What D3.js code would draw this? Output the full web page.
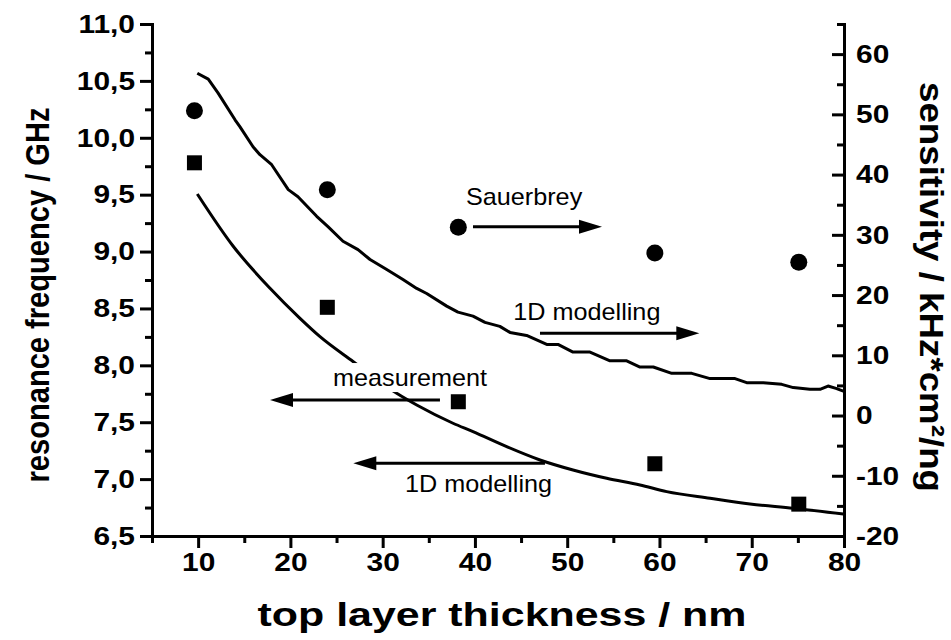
<!DOCTYPE html>
<html>
<head>
<meta charset="utf-8">
<script src="https://cdn.jsdelivr.net/npm/d3@7"></script>
<style>
  body { margin: 0; background: #fff; }
  svg { display: block; }
  text { font-family: Arial, "Liberation Sans", Helvetica, sans-serif; fill: #000; }
</style>
</head>
<body>
<svg id="chart" width="951" height="640"></svg>
<script>
// ---- data ----
var thickness     = [9.6, 24.0, 38.2, 59.5, 75.1];       // nm
var measuredFreq  = [9.78, 8.51, 7.68, 7.135, 6.78];     // GHz (left axis)
var sauerbreySens = [50.6, 37.5, 31.25, 27.0, 25.45];    // kHz*cm2/ng (right axis)

// 1D model, frequency (left axis)
var modelFreqX = [9.91, 13.78, 17.79, 21.04, 23.21, 26.82, 31.52, 33.69, 37.62, 39.79,
                  43.44, 47.05, 50.63, 54.28, 57.89, 60.78, 65.48, 69.81, 74.51, 79.93];
var modelFreqY = [9.506, 9.049, 8.677, 8.413, 8.252, 8.032, 7.754, 7.651, 7.491, 7.417,
                  7.285, 7.168, 7.08, 7.007, 6.948, 6.89, 6.831, 6.781, 6.744, 6.693];

// 1D model, sensitivity (right axis)
var modelSensX = [9.91, 11.10, 12.15, 14.0, 14.54, 15.95, 16.7, 17.97, 19.77, 20.82, 22.85, 24.07,
                  25.7, 27.33, 28.63, 30.44, 32.2, 33.69, 34.77, 36.94, 38.16, 39.79, 41.09, 42.7,
                  43.8, 45.6, 47.78, 49.0, 50.63, 52.47, 54.64, 56.45, 57.89, 59.33, 61.33, 63.5,
                  65.48, 68.19, 69.45, 71.25, 73.25, 74.5, 76.3, 77.4, 78.27, 79.13, 80.0];
var modelSensY = [56.83, 55.84, 53.57, 49.1, 47.93, 44.62, 43.3, 41.64, 37.5, 36.33, 33.07, 31.36,
                  28.93, 27.55, 25.9, 24.24, 22.58, 21.1, 20.26, 18.16, 17.16, 16.5, 15.46, 14.8,
                  13.8, 13.3, 11.81, 11.81, 10.54, 10.54, 9.08, 9.08, 8.05, 8.05, 7.0, 7.0,
                  6.13, 6.13, 5.46, 5.46, 5.18, 4.64, 4.35, 4.35, 4.9, 4.5, 4.0];

// ticks
var xMajor = [10, 20, 30, 40, 50, 60, 70, 80];
var xMinor = [5, 15, 25, 35, 45, 55, 65, 75];
var leftMajor = [6.5, 7.0, 7.5, 8.0, 8.5, 9.0, 9.5, 10.0, 10.5, 11.0];
var leftMinor = [6.75, 7.25, 7.75, 8.25, 8.75, 9.25, 9.75, 10.25, 10.75];
var rightMajor = [-20, -10, 0, 10, 20, 30, 40, 50, 60];
var rightMinor = [-15, -5, 5, 15, 25, 35, 45, 55, 65];

// annotations: text position + arrow, in data units of their own axis
var annLabels = ["Sauerbrey", "1D modelling", "measurement", "1D modelling"];
var annAxis   = ["R", "R", "L", "L"];
var annTextX  = [39.03, 44.16, 24.62, 32.42];
var annTextY  = [34.95, 15.86, 7.818, 6.89];
var annFromX  = [39.79, 47.05, 36.21, 47.59];
var annToX    = [53.77, 64.32, 17.79, 26.82];
var annArrowY = [31.35, 13.65, 7.695, 7.139];

// ---- layout ----
var svg = d3.select("#chart");
var m = { left: 152, right: 844, top: 24, bottom: 536 };

var x = d3.scaleLinear().domain([5, 80]).range([m.left, m.right]);
var yL = d3.scaleLinear().domain([6.5, 11]).range([m.bottom, m.top]);
var yR = d3.scaleLinear().domain([-20, 65]).range([m.bottom, m.top]);

var comma = d3.formatLocale({decimal: ",", thousands: ".", grouping: [3], currency: ["", ""], minus: "-"});
var intFmt = comma.format("d");

function widen(sel, k) {
  sel.each(function () {
    var n = this.getComputedTextLength();
    d3.select(this).attr("textLength", n * k).attr("lengthAdjust", "spacingAndGlyphs");
  });
}

function styleAxis(g) {
  g.select(".domain").attr("stroke-width", 3).attr("stroke-linecap", "square");
  g.selectAll(".tick line").attr("stroke-width", 3);
  g.selectAll(".tick text").attr("font-size", 26).attr("font-weight", "bold")
    .attr("font-family", "Arial, 'Liberation Sans', sans-serif");
}

function minorStyle(g) {
  g.select(".domain").remove();
  g.selectAll("line").attr("stroke-width", 3);
}

// minor ticks
svg.append("g").attr("transform", "translate(0," + m.bottom + ")")
  .call(d3.axisBottom(x).tickValues(xMinor).tickSize(7).tickFormat(""))
  .call(minorStyle);
svg.append("g").attr("transform", "translate(" + m.left + ",0)")
  .call(d3.axisLeft(yL).tickValues(leftMinor).tickSize(7).tickFormat(""))
  .call(minorStyle);
svg.append("g").attr("transform", "translate(" + m.right + ",0)")
  .call(d3.axisRight(yR).tickValues(rightMinor).tickSize(-7).tickFormat(""))
  .call(minorStyle);

// major axes
svg.append("g").attr("class", "major").attr("transform", "translate(0," + m.bottom + ")")
  .call(d3.axisBottom(x).tickValues(xMajor).tickSizeInner(12).tickSizeOuter(0).tickPadding(5)
    .tickFormat(intFmt))
  .call(styleAxis);
svg.append("g").attr("class", "major").attr("transform", "translate(" + m.left + ",0)")
  .call(d3.axisLeft(yL).tickValues(leftMajor).tickSizeInner(12).tickSizeOuter(0).tickPadding(5)
    .tickFormat(comma.format(".1f")))
  .call(styleAxis);
svg.append("g").attr("class", "major").attr("transform", "translate(" + m.right + ",0)")
  .call(d3.axisRight(yR).tickValues(rightMajor).tickSizeInner(-12).tickSizeOuter(0).tickPadding(12)
    .tickFormat(intFmt))
  .call(styleAxis);
widen(svg.selectAll(".major .tick text"), 1.15);

// ---- curves ----
var freqLine = d3.line().x(function (d) { return x(d[0]); }).y(function (d) { return yL(d[1]); })
  .curve(d3.curveMonotoneX);
var sensLine = d3.line().x(function (d) { return x(d[0]); }).y(function (d) { return yR(d[1]); });

svg.append("path")
  .datum(d3.zip(modelSensX, modelSensY))
  .attr("d", sensLine)
  .attr("fill", "none").attr("stroke", "#000").attr("stroke-width", 3).attr("stroke-linejoin", "round");
svg.append("path")
  .datum(d3.zip(modelFreqX, modelFreqY))
  .attr("d", freqLine)
  .attr("fill", "none").attr("stroke", "#000").attr("stroke-width", 3);

// ---- markers ----
svg.selectAll(".sq").data(d3.zip(thickness, measuredFreq)).enter().append("rect")
  .attr("class", "sq")
  .attr("x", function (d) { return x(d[0]) - 7.5; })
  .attr("y", function (d) { return yL(d[1]) - 7.5; })
  .attr("width", 15).attr("height", 15).attr("fill", "#000");
svg.selectAll(".dot").data(d3.zip(thickness, sauerbreySens)).enter().append("circle")
  .attr("class", "dot")
  .attr("cx", function (d) { return x(d[0]); })
  .attr("cy", function (d) { return yR(d[1]); })
  .attr("r", 8.5).attr("fill", "#000");

// ---- annotations ----
var ann = annLabels.map(function (t, i) {
  var ys = annAxis[i] === "L" ? yL : yR;
  return { text: t, tx: x(annTextX[i]), ty: ys(annTextY[i]),
           x1: x(annFromX[i]), x2: x(annToX[i]), ay: ys(annArrowY[i]) };
});

var ag = svg.selectAll(".ann").data(ann).enter().append("g").attr("class", "ann");
var bg = ag.append("rect").attr("fill", "#fff");
var at = ag.append("text")
  .attr("x", function (d) { return d.tx; })
  .attr("y", function (d) { return d.ty; })
  .attr("font-size", 24)
  .text(function (d) { return d.text; });
widen(at, 1.05);
// white box behind the labels (hides the curve under "measurement")
bg.each(function (d, i) {
  var b = at.nodes()[i].getBBox();
  d3.select(this).attr("x", b.x - 1).attr("y", b.y - 1).attr("width", b.width + 2).attr("height", b.height + 2);
});

ag.append("line")
  .attr("x1", function (d) { return d.x1; })
  .attr("x2", function (d) { return d.x2 + (d.x2 > d.x1 ? -20 : 20); })
  .attr("y1", function (d) { return d.ay; })
  .attr("y2", function (d) { return d.ay; })
  .attr("stroke", "#000").attr("stroke-width", 3);
ag.append("path")
  .attr("d", function (d) {
    var s = d.x2 > d.x1 ? -1 : 1;
    return "M" + d.x2 + "," + d.ay + "L" + (d.x2 + s * 23) + "," + (d.ay - 7) +
           "L" + (d.x2 + s * 23) + "," + (d.ay + 7) + "Z";
  })
  .attr("fill", "#000");

// ---- axis titles ----
svg.append("text")
  .attr("x", (m.left + m.right) / 2 + 4).attr("y", 626)
  .attr("text-anchor", "middle").attr("font-size", 34).attr("font-weight", "bold")
  .attr("textLength", 489).attr("lengthAdjust", "spacingAndGlyphs")
  .text("top layer thickness / nm");

svg.append("text")
  .attr("transform", "translate(49,295) rotate(-90)")
  .attr("text-anchor", "middle").attr("font-size", 34).attr("font-weight", "bold")
  .attr("textLength", 375).attr("lengthAdjust", "spacingAndGlyphs")
  .text("resonance frequency / GHz");

svg.append("text")
  .attr("transform", "translate(920,287) rotate(90)")
  .attr("text-anchor", "middle").attr("font-size", 34).attr("font-weight", "bold")
  .attr("textLength", 410).attr("lengthAdjust", "spacingAndGlyphs")
  .text("sensitivity / kHz*cm\u00b2/ng");
</script>
</body>
</html>
